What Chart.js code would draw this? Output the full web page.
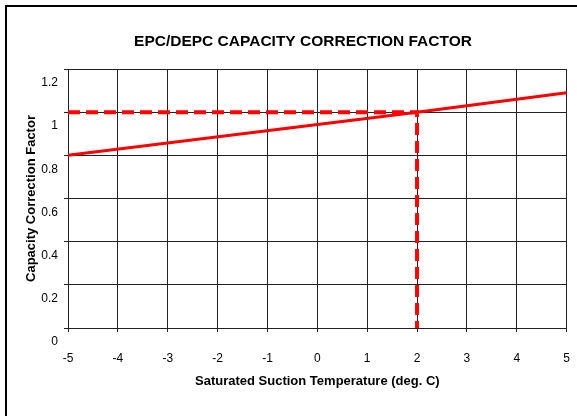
<!DOCTYPE html>
<html><head><meta charset="utf-8">
<script src="https://cdn.jsdelivr.net/npm/chart.js@4"></script>
<style>
html,body{margin:0;padding:0;background:#fff;overflow:hidden;width:577px;height:416px;}
#frame{position:absolute;left:5px;top:5px;width:640px;height:480px;border:2px solid #000;box-sizing:border-box;}
#wrap{position:absolute;left:0;top:0;width:577px;height:416px;overflow:hidden;}
#c{position:absolute;left:0;top:0;}
</style></head><body>
<div id="frame"></div>
<div id="wrap"><canvas id="c" width="589" height="416"></canvas></div>
<script>
const chartTitle = 'EPC/DEPC CAPACITY CORRECTION FACTOR';
const xTitle = 'Saturated Suction Temperature (deg. C)';
const yTitle = 'Capacity Correction Factor';
const xTicks = [-5, -4, -3, -2, -1, 0, 1, 2, 3, 4, 5];
const yTicks = [0, 0.2, 0.4, 0.6, 0.8, 1, 1.2];
// correction factor curve
const curveX = [-5, 2, 5];
const curveY = [0.80, 1.00, 1.09];
// dashed reference lines (read-off at 2 deg C)
const refX = [-5, 2, 2];
const refY = [1, 1, 0];

const toPts = (xs, ys) => xs.map((x, i) => ({x: x, y: ys[i]}));

Chart.defaults.font.family = "'Liberation Sans', Arial, sans-serif";
Chart.defaults.color = '#000';

const titleShift = {
  id: 'titleShift',
  afterLayout(chart) {
    const t = chart.titleBlock;
    if (t) { t.left += 5.5; t.right += 5.5; }
  }
};

const gridColor = '#222';

new Chart(document.getElementById('c'), {
  type: 'scatter',
  data: {
    datasets: [
      {
        data: toPts(refX, refY),
        showLine: true,
        borderColor: '#ff0000',
        borderWidth: 4,
        borderDash: [12, 6],
        pointRadius: 0,
        fill: false,
        tension: 0
      },
      {
        data: toPts(curveX, curveY),
        showLine: true,
        borderColor: '#ff0000',
        borderWidth: 3,
        pointRadius: 0,
        fill: false,
        tension: 0
      }
    ]
  },
  plugins: [titleShift],
  options: {
    responsive: false,
    animation: false,
    events: [],
    layout: { padding: { left: 6, right: 0, top: 0, bottom: 0 } },
    plugins: {
      legend: { display: false },
      tooltip: { enabled: false },
      title: {
        display: true,
        text: chartTitle,
        color: '#000',
        font: { size: 15.5, weight: 'bold' },
        padding: { top: 32, bottom: 18.4 }
      }
    },
    scales: {
      x: {
        type: 'linear',
        min: -5, max: 5,
        afterBuildTicks: s => { s.ticks = xTicks.map(v => ({value: v})); },
        afterFit: s => { s.height = 88; },
        grid: { color: gridColor, lineWidth: 1, tickLength: 4, drawTicks: true },
        border: { color: gridColor, width: 1 },
        ticks: { font: { size: 12 }, color: '#000', padding: 19, maxRotation: 0, callback: v => String(v) },
        title: { display: true, text: xTitle, font: { size: 13, weight: 'bold' }, color: '#000', padding: { top: 0, bottom: 27 } }
      },
      y: {
        type: 'linear',
        min: 0, max: 1.2,
        afterBuildTicks: s => { s.ticks = yTicks.map(v => ({value: v})); },
        afterFit: s => { s.width = 62; },
        grid: { color: gridColor, lineWidth: 1, tickLength: 4, drawTicks: true },
        border: { color: gridColor, width: 1 },
        ticks: { font: { size: 12 }, color: '#000', padding: 6, labelOffset: 14, callback: v => String(v) },
        title: { display: true, text: yTitle, font: { size: 13, weight: 'bold' }, color: '#000', padding: { top: 18, bottom: 0 } }
      }
    }
  }
});
</script>
</body></html>
